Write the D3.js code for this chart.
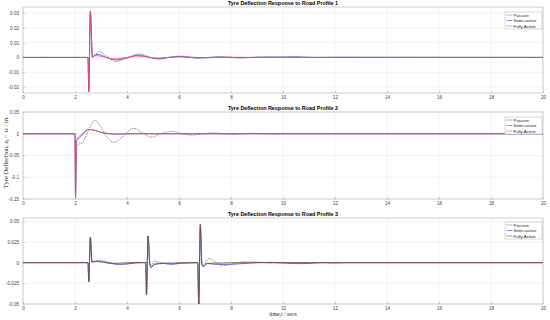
<!DOCTYPE html>
<meta charset="utf-8">
<script src="https://d3js.org/d3.v7.min.js"></script>
<style>
  body { margin: 0; background: #fff; }
  text { font-family: "Liberation Sans", Arial, sans-serif; }
</style>
<div id="chart"></div>
<script>
// ---- data ----
var titles = ["Tyre Deflection Response to Road Profile 1",
              "Tyre Deflection Response to Road Profile 2",
              "Tyre Deflection Response to Road Profile 3"];
var seriesNames = ["Passive", "Semi-active", "Fully Active"];
var xTicks = [0, 2, 4, 6, 8, 10, 12, 14, 16, 18, 20];
var yTicks1 = [-0.02, -0.01, 0, 0.01, 0.02, 0.03];
var yTicks2 = [-0.15, -0.1, -0.05, 0, 0.05];
var yTicks3 = [-0.05, -0.025, 0, 0.025, 0.05];

// profile 1: [time, deflection]
var passive1 = [[0,0],[2.5,0],[2.53,-0.023],[2.59,0.031],[2.67,0.0005],[2.75,0.0015],[2.95,0.0038],[3.2,0.001],
  [3.55,-0.0028],[3.9,-0.001],[4.5,0.0023],[4.9,0],[5.25,-0.0011],[5.6,0],[6.05,0.0009],[6.8,-0.0005],
  [7.6,0.0004],[8.4,-0.0003],[9.2,0.0002],[10,-0.0001],[11,0],[20,0]];
var semi1 = [[0,0],[2.5,0],[2.53,-0.023],[2.59,0.031],[2.67,0],[2.75,0.0015],[2.9,0.002],[3.2,0],
  [3.6,-0.0017],[3.95,-0.0005],[4.45,0.0015],[4.85,0],[5.2,-0.0009],[5.6,0],[6,0.0006],[6.7,-0.0004],
  [7.5,0.0003],[8.3,-0.0002],[9.2,0.0002],[10.5,0.0004],[11.2,0],[12,0.0001],[20,0]];
var active1 = [[0,0],[2.5,0],[2.53,-0.023],[2.59,0.031],[2.67,0.0005],[2.8,0.0012],[3,0.0008],[3.5,-0.001],
  [3.9,-0.0003],[4.4,0.0009],[4.9,0],[5.2,-0.0005],[6,0.0004],[7,-0.0002],[8,0.0001],[9,0],[20,0]];

// profile 2
var passive2 = [[0,0],[2,0],[2.02,-0.14],[2.06,-0.03],[2.12,-0.025],[2.3,-0.02],[2.5,0.005],[2.75,0.031],
  [3,0.015],[3.2,-0.005],[3.5,-0.02],[3.8,-0.008],[4.25,0.0125],[4.6,0.002],[4.95,-0.008],[5.3,0],
  [5.75,0.0055],[6.1,0],[6.5,-0.003],[7.3,0.002],[8,-0.0015],[8.8,0.001],[9.6,-0.0005],[10.5,0.0002],
  [11.5,0],[20,0]];
var semi2 = [[0,0],[2,0],[2.02,-0.145],[2.06,-0.015],[2.12,-0.012],[2.25,-0.005],[2.4,0.006],[2.55,0.0095],
  [2.75,0.008],[3,0.003],[3.3,0],[3.6,-0.001],[4.2,0.0003],[5,0],[20,0]];
var active2 = [[0,0],[2,0],[2.02,-0.148],[2.05,-0.02],[2.1,-0.01],[2.25,-0.002],[2.4,0.007],[2.55,0.0098],
  [2.8,0.007],[3.1,0.002],[3.4,0],[3.7,-0.0005],[4.5,0],[20,0]];

// profile 3
var passive3 = [[0,0],[2.5,0],[2.53,-0.023],[2.59,0.031],[2.66,0.0005],[2.75,0.001],[2.95,0.003],[3.3,0.0005],
  [3.6,-0.002],[4,-0.0015],[4.4,0.0005],[4.72,0],[4.75,-0.039],[4.81,0.032],[4.88,-0.002],[4.93,-0.003],
  [5.05,0.002],[5.3,0],[5.7,-0.001],[6.2,0],[6.72,0],[6.76,-0.052],[6.82,0.046],[6.88,-0.002],[6.93,-0.003],
  [7.15,0.005],[7.4,0.001],[7.7,-0.0035],[8,-0.002],[8.5,0.001],[9,0.0008],[9.5,-0.0005],[10.2,0.0002],
  [11,0],[20,0]];
var semi3 = [[0,0],[2.5,0],[2.53,-0.023],[2.59,0.031],[2.65,0.001],[2.8,0.002],[3,0.001],[3.3,-0.0005],
  [3.7,-0.002],[4,-0.0015],[4.3,-0.0005],[4.72,0],[4.75,-0.039],[4.81,0.032],[4.88,-0.002],[4.93,-0.006],
  [5.05,-0.002],[5.4,-0.001],[5.7,-0.002],[6,-0.001],[6.5,-0.0003],[6.72,0],[6.76,-0.052],[6.82,0.046],
  [6.88,-0.002],[6.93,-0.005],[7.1,-0.001],[7.4,-0.002],[7.9,-0.002],[8.5,-0.001],[9,0],[9.5,0.0004],
  [10.5,-0.0012],[11,-0.001],[11.5,0],[12,-0.0004],[12.5,0],[20,0]];
var active3 = [[0,0],[2.5,0],[2.53,-0.023],[2.59,0.031],[2.65,0.001],[2.8,0.0015],[3,0.001],[3.5,-0.001],
  [4,0],[4.72,0],[4.75,-0.039],[4.81,0.032],[4.88,-0.002],[4.93,-0.005],[5.05,-0.002],[5.3,-0.001],
  [5.8,-0.0005],[6.5,0],[6.72,0],[6.76,-0.052],[6.82,0.046],[6.88,-0.002],[6.93,-0.004],[7.05,-0.001],
  [7.5,-0.0005],[8.5,0],[20,0]];

// ---- layout ----
var W = 550, H = 320;
var svg = d3.select("#chart").append("svg").attr("width", W).attr("height", H);

var x = d3.scaleLinear().domain([0, 20]).range([23, 543]);

var panels = [
  {title: titles[0], top: 7,   bottom: 93,  domain: [-0.024, 0.034], ticks: yTicks1,
   data: [passive1, semi1, active1], colors: ["#404040", "#3b3bd6", "#ff4466"], legY: 12},
  {title: titles[1], top: 112, bottom: 199, domain: [-0.15, 0.05],   ticks: yTicks2,
   data: [passive2, semi2, active2], colors: ["#404040", "#3b3bd6", "#ff4466"], legY: 117},
  {title: titles[2], top: 218, bottom: 304, domain: [-0.05, 0.054],  ticks: yTicks3,
   data: [passive3, semi3, active3], colors: ["#404040", "#3b3bd6", "#7a5040"], legY: 222}
];

panels.forEach(function(p, i) {
  var y = d3.scaleLinear().domain(p.domain).range([p.bottom, p.top]);
  var g = svg.append("g");

  // grid
  g.selectAll(".gx").data(xTicks).enter().append("line")
    .attr("x1", function(d){ return x(d); }).attr("x2", function(d){ return x(d); })
    .attr("y1", p.top).attr("y2", p.bottom)
    .attr("stroke", "#e4e4e4").attr("stroke-width", 0.5);
  g.selectAll(".gy").data(p.ticks).enter().append("line")
    .attr("x1", x(0)).attr("x2", x(20))
    .attr("y1", function(d){ return y(d); }).attr("y2", function(d){ return y(d); })
    .attr("stroke", "#e4e4e4").attr("stroke-width", 0.5);

  // axes
  var xa = g.append("g").attr("transform", "translate(0," + p.bottom + ")")
    .call(d3.axisBottom(x).tickValues(xTicks).tickSize(-2).tickPadding(4).tickFormat(d3.format("d")));
  var ya = g.append("g").attr("transform", "translate(" + x(0) + ",0)")
    .call(d3.axisLeft(y).tickValues(p.ticks).tickSize(-2).tickPadding(4)
      .tickFormat(function(d){ return d === 0 ? "0" : String(d); }));
  [xa, ya].forEach(function(a) {
    a.select(".domain").remove();
    a.selectAll("line").attr("stroke", "#a0a0a0").attr("stroke-width", 0.5);
    a.selectAll("text").attr("font-size", "4.6px").attr("fill", "#404040");
  });
  xa.selectAll("text").attr("dy", "0.5em");

  // box
  g.append("rect").attr("x", x(0)).attr("y", p.top)
    .attr("width", x(20) - x(0)).attr("height", p.bottom - p.top)
    .attr("fill", "none").attr("stroke", "#b0b0b0").attr("stroke-width", 0.6);

  // clip
  svg.append("clipPath").attr("id", "clip" + i).append("rect")
    .attr("x", x(0)).attr("y", p.top).attr("width", x(20) - x(0)).attr("height", p.bottom - p.top);

  var line = d3.line()
    .x(function(d){ return x(d[0]); })
    .y(function(d){ return y(d[1]); })
    .curve(d3.curveMonotoneX);

  var lg = g.append("g").attr("clip-path", "url(#clip" + i + ")");
  p.data.forEach(function(s, k) {
    lg.append("path").datum(s)
      .attr("d", line)
      .attr("fill", "none")
      .attr("stroke", p.colors[k])
      .attr("stroke-width", k === 0 ? 0.6 : 0.8)
      .attr("stroke-dasharray", k === 0 ? "1.6,1" : null);
  });

  // title
  g.append("text").attr("x", 283).attr("y", p.top - 2)
    .attr("text-anchor", "middle").attr("font-size", "5.4px").attr("font-weight", "bold")
    .attr("fill", "#000").text(p.title);

  // legend
  var leg = g.append("g").attr("transform", "translate(505," + p.legY + ")");
  leg.append("rect").attr("width", 37).attr("height", 17)
    .attr("fill", "#fff").attr("stroke", "#b0b0b0").attr("stroke-width", 0.5);
  seriesNames.forEach(function(n, k) {
    var ly = 3 + k * 5.5;
    leg.append("line").attr("x1", 1.5).attr("x2", 7.5).attr("y1", ly).attr("y2", ly)
      .attr("stroke", p.colors[k]).attr("stroke-width", 0.6)
      .attr("stroke-dasharray", k === 0 ? "1.4,0.8" : null);
    leg.append("text").attr("x", 8.5).attr("y", ly).attr("dy", "0.35em")
      .attr("font-size", "4.4px").attr("fill", "#202020").text(n);
  });
});

// axis labels (LaTeX style)
var serif = "'Liberation Serif', 'DejaVu Serif', serif";
var yl = svg.append("text")
  .attr("transform", "translate(8,153) rotate(-90)")
  .attr("text-anchor", "middle").attr("font-size", "6.6px").attr("fill", "#262626")
  .style("font-family", serif);
yl.append("tspan").text("Tyre Deflection, ");
yl.append("tspan").attr("font-style", "italic").text("z");
yl.append("tspan").attr("font-size", "4.4px").attr("dy", "1").text("t");
yl.append("tspan").attr("dy", "-1").text(" \u2212 ");
yl.append("tspan").attr("font-style", "italic").text("w");
yl.append("tspan").text(" / m");

var xl = svg.append("text").attr("x", 283).attr("y", 316)
  .attr("text-anchor", "middle").attr("font-size", "5.8px").attr("fill", "#262626")
  .style("font-family", serif);
xl.append("tspan").text("time,");
xl.append("tspan").attr("font-style", "italic").text("t");
xl.append("tspan").text(" / secs");
</script>
